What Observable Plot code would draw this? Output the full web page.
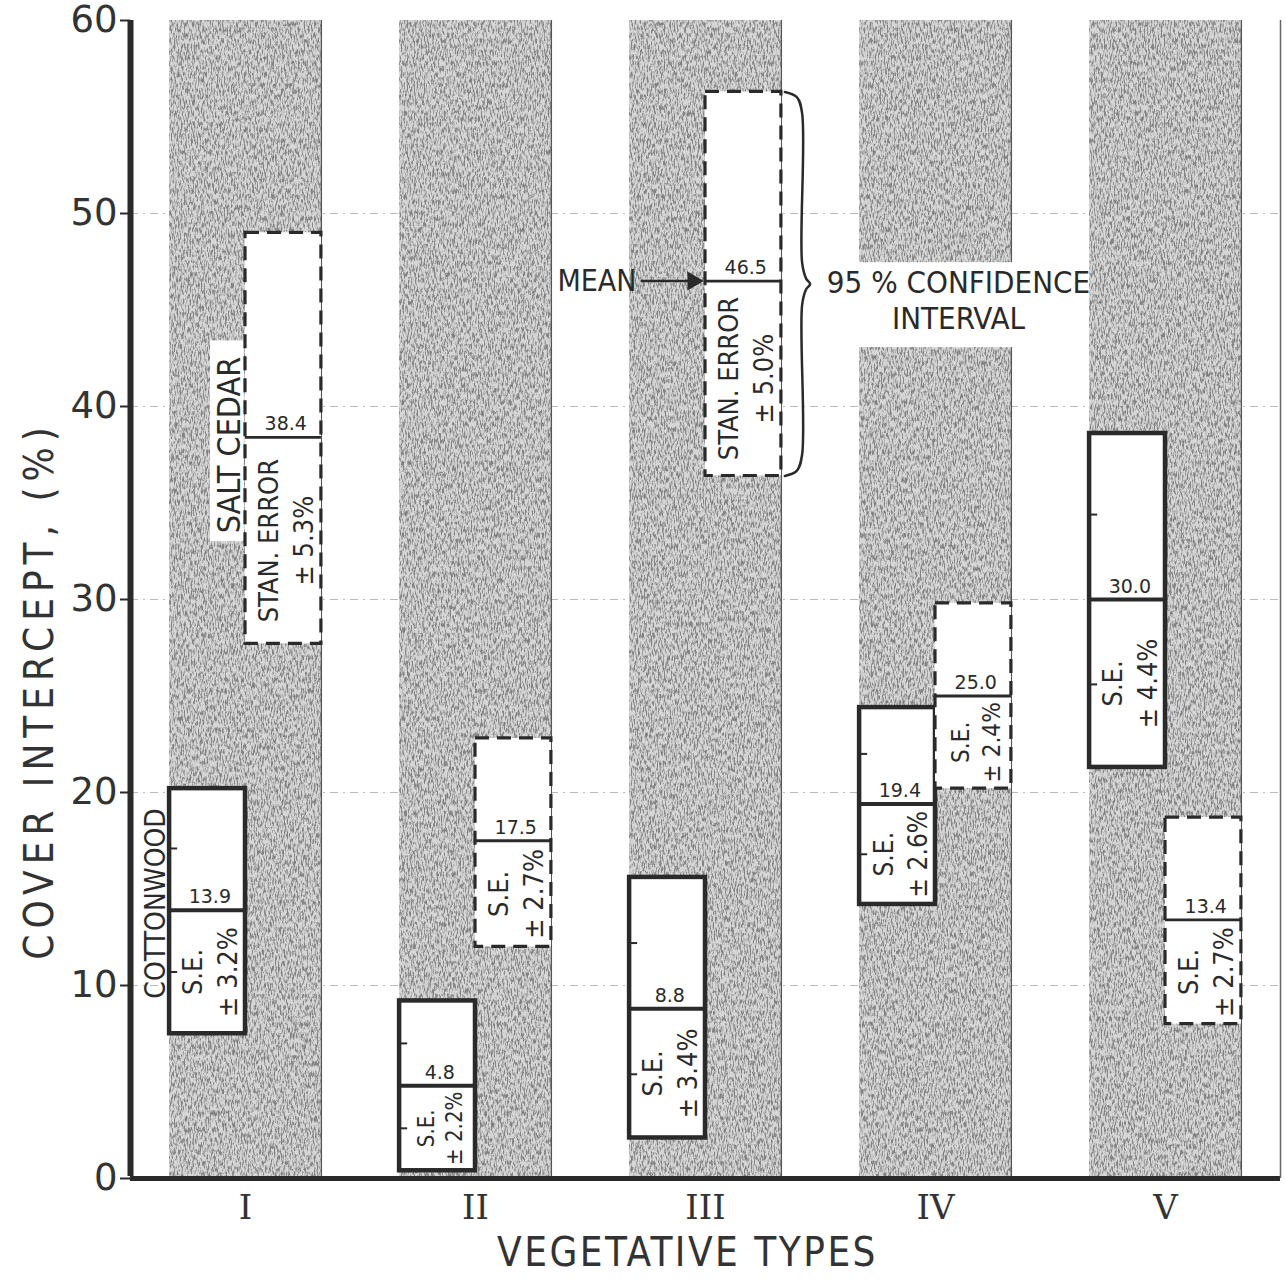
<!DOCTYPE html>
<html><head><meta charset="utf-8">
<script src="https://cdn.jsdelivr.net/npm/d3@7"></script>
<script src="https://cdn.jsdelivr.net/npm/@observablehq/plot@0.6"></script>
<style>body{margin:0;background:#fff}</style>
</head><body><div id="chart"></div>
<script>
// ---- data ----
const types = ["I", "II", "III", "IV", "V"];
const yTicks = [0, 10, 20, 30, 40, 50, 60];
// Cottonwood (solid boxes)
const cotMean = [13.9, 4.8, 8.8, 19.4, 30.0];
const cotSE   = [3.2, 2.2, 3.4, 2.6, 4.4];
const cotLo   = [7.5, 0.4, 2.1, 14.2, 21.3];
const cotHi   = [20.2, 9.2, 15.6, 24.4, 38.6];
const cotSEName = ["S.E.", "S.E.", "S.E.", "S.E.", "S.E."];
// Salt cedar (dashed boxes)
const salMean = [38.4, 17.5, 46.5, 25.0, 13.4];
const salSE   = [5.3, 2.7, 5.0, 2.4, 2.7];
const salLo   = [27.7, 12.0, 36.4, 20.2, 8.0];
const salHi   = [49.0, 22.8, 56.3, 29.8, 18.7];
const salSEName = ["STAN. ERROR", "S.E.", "STAN. ERROR", "S.E.", "S.E."];
const seriesNames = ["COTTONWOOD", "SALT CEDAR"];
const meanNote = "MEAN";
const ciNote = "95 % CONFIDENCE\nINTERVAL";
const xTitle = "VEGETATIVE TYPES";
const yTitle = "COVER INTERCEPT, (%)";

// ---- styling ----
const ink = "#2a2a2a";
const half = 0.33;
const cond = "'DejaVu Sans Condensed', 'DejaVu Sans', sans-serif";

const cot = types.map((t, k) => ({i: k + 1, x1: k + 1 - half, x2: k + 1, mean: cotMean[k], se: cotSE[k], lo: cotLo[k], hi: cotHi[k], name: cotSEName[k]}));
const sal = types.map((t, k) => ({i: k + 1, x1: k + 1, x2: k + 1 + half, mean: salMean[k], se: salSE[k], lo: salLo[k], hi: salHi[k], name: salSEName[k]}));
const boxes = cot.concat(sal);
const bands = types.map((t, k) => ({i: k + 1}));
const seTicks = cot.flatMap(d => [d.mean + d.se, d.mean - d.se].map(v => ({x1: d.x1, x2: d.x1 + 0.035, y: v})));
const seLabel = d => `${d.name}\n± ${d.se.toFixed(1)}%`;
const seSize = d => {
  const avail = (d.mean - d.lo) * 19.3;
  const chars = Math.max(d.name.length, 6);
  return Math.min(27, avail / (chars * 0.64));
};

// confidence brace for type III salt cedar
const b = sal[2];
const bx = b.x2 + 0.015, bw = 0.075, bt = 0.035, br = 1.1;
const bmid = (b.lo + b.hi) / 2;
const brace = [
  [bx, b.hi], [bx + bw * 0.7, b.hi - br * 0.25], [bx + bw, b.hi - br],
  [bx + bw, bmid + br], [bx + bw + bt * 0.5, bmid + br * 0.25], [bx + bw + bt, bmid],
  [bx + bw + bt * 0.5, bmid - br * 0.25], [bx + bw, bmid - br],
  [bx + bw, b.lo + br], [bx + bw * 0.7, b.lo + br * 0.25], [bx, b.lo]
];

const chart = Plot.plot({
  width: 1286, height: 1288,
  marginLeft: 130, marginRight: 6, marginTop: 20, marginBottom: 110,
  x: {domain: [0.5, 5.5]},
  y: {domain: [0, 60]},
  style: {fontFamily: "'DejaVu Sans', sans-serif", color: ink, background: "white", overflow: "visible"},
  marks: [
    Plot.ruleY(yTicks.slice(1, -1), {stroke: "#666", strokeOpacity: 0.45, strokeDasharray: "8,5,2,5", strokeWidth: 1}),
    Plot.rect(bands, {x1: d => d.i - half, x2: d => d.i + half, y1: 0, y2: 60, fill: "#d6d6d6"}),
    Plot.rect(bands, {x1: d => d.i - half, x2: d => d.i + half, y1: 0, y2: 60, fill: "#000"}),
    Plot.ruleX(bands, {x: d => d.i + half, y1: 0, y2: 60, stroke: "#555", strokeWidth: 1.3}),
    // white patches behind the hand-lettered notes
    Plot.rect([sal[0]], {x1: d => d.x1 - 0.152, x2: d => d.x1 - 0.005, y1: d => d.mean - 5.4, y2: d => d.mean + 5.0, fill: "white"}),
    Plot.rect([sal[2]], {x1: d => d.x2 + 0.15, x2: d => d.x2 + 1.31, y1: () => bmid - 3.3, y2: () => bmid + 1.1, fill: "white"}),
    Plot.rect(cot, {x1: "x1", x2: "x2", y1: "lo", y2: "hi", fill: "white", stroke: ink, strokeWidth: 4.5}),
    Plot.rect(sal, {x1: "x1", x2: "x2", y1: "lo", y2: "hi", fill: "white", stroke: ink, strokeWidth: 3.2, strokeDasharray: "14,8"}),
    Plot.ruleY(cot, {x1: "x1", x2: "x2", y: "mean", stroke: ink, strokeWidth: 4}),
    Plot.ruleY(sal, {x1: "x1", x2: "x2", y: "mean", stroke: ink, strokeWidth: 2.8}),
    Plot.ruleY(seTicks, {x1: "x1", x2: "x2", y: "y", stroke: ink, strokeWidth: 2}),
    Plot.text(boxes, {x: d => (d.x1 + d.x2) / 2 + 0.01, y: "mean", text: d => d.mean.toFixed(1), dy: -13, fontSize: 19, fill: ink}),
    Plot.text(boxes, {x: d => (d.x1 + d.x2) / 2 + 0.005, y: d => (d.lo + d.mean) / 2, text: seLabel, rotate: -90, lineHeight: 1.3, fontSize: seSize, fontFamily: cond, fill: ink}),
    // series labels
    Plot.text([seriesNames[1]], {x: () => sal[0].x1 - 0.07, y: () => sal[0].mean - 0.4, text: d => d, rotate: -90, fontSize: 32, fontFamily: cond, fill: ink}),
    Plot.text([seriesNames[0]], {x: () => cot[0].x1 - 0.06, y: () => cot[0].mean + 0.35, text: d => d, rotate: -90, fontSize: 28, fontFamily: cond, fill: ink}),
    // MEAN arrow
    Plot.text([meanNote], {x: () => sal[2].x1 - 0.3, y: () => sal[2].mean, text: d => d, textAnchor: "end", fontSize: 30, fontFamily: cond, fill: ink}),
    Plot.ruleY([sal[2]], {x1: d => d.x1 - 0.28, x2: d => d.x1 - 0.06, y: "mean", stroke: ink, strokeWidth: 2.5}),
    Plot.dot([sal[2]], {x: d => d.x1 - 0.055, y: "mean", symbol: "triangle", rotate: 90, r: 7, fill: ink, stroke: "none"}),
    // brace + CI note
    Plot.line(brace, {x: d => d[0], y: d => d[1], curve: "catmull-rom", stroke: ink, strokeWidth: 2.5}),
    Plot.text([ciNote], {x: () => sal[2].x2 + 0.77, y: () => bmid, text: d => d, lineAnchor: "top", dy: -16, lineHeight: 1.15, fontSize: 31, fontFamily: cond, fill: ink}),
    // axes
    Plot.axisY({ticks: yTicks, tickSize: 10, tickPadding: 3, fontSize: 37, label: null, stroke: ink, strokeWidth: 2, fill: "#333"}),
    Plot.axisX({ticks: [1, 2, 3, 4, 5], tickFormat: d => types[d - 1], tickSize: 0, tickPadding: 16, fontSize: 34, fontFamily: "'DejaVu Serif', serif", label: null, fill: "#333"}),
    Plot.text([xTitle], {frameAnchor: "bottom", dx: -18, dy: 87, text: d => d, fontSize: 40, fontFamily: cond, fill: "#333"}),
    Plot.text([yTitle], {frameAnchor: "left", textAnchor: "middle", dx: -90, dy: 91, rotate: -90, text: d => d, fontSize: 40, fontFamily: cond, fill: "#333"}),
    Plot.ruleX([0.5], {y1: 0, y2: 60, stroke: ink, strokeWidth: 6, insetTop: -2}),
    Plot.ruleY([0], {x1: 0.5, x2: 5.5, stroke: ink, strokeWidth: 5}),
    Plot.ruleX([5.5], {y1: 0, y2: 60, stroke: "#666", strokeWidth: 1.5})
  ]
});

const svg = d3.select(chart);
// paper-grain texture for the grey bands
const defs = svg.insert("defs", ":first-child");
const f = defs.append("filter").attr("id", "grain").attr("x", 0).attr("y", 0).attr("width", 1).attr("height", 1);
f.append("feTurbulence").attr("type", "fractalNoise").attr("baseFrequency", "0.7 0.18").attr("numOctaves", 4).attr("seed", 7).attr("result", "t");
f.append("feColorMatrix").attr("in", "t").attr("type", "matrix")
  .attr("values", "0 0 0 0 0.22  0 0 0 0 0.22  0 0 0 0 0.22  4.2 0 0 0 -1.85").attr("result", "c");
f.append("feComposite").attr("in", "c").attr("in2", "SourceGraphic").attr("operator", "in");
const rectGroups = svg.selectAll('g[aria-label="rect"]').nodes();
if (rectGroups[1]) d3.select(rectGroups[1]).attr("filter", "url(#grain)");
// lettering spacing of the titles
svg.selectAll("text").filter(function() { return this.textContent === yTitle; }).style("letter-spacing", "6px");
svg.selectAll("text").filter(function() { return this.textContent === xTitle; }).style("letter-spacing", "2.5px");

document.getElementById("chart").appendChild(chart);
</script></body></html>
